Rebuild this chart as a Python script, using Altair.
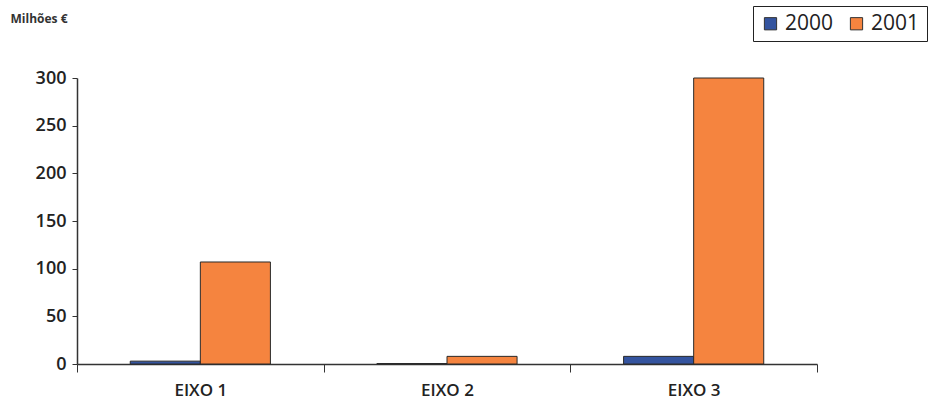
import altair as alt
import pandas as pd

categories = ["EIXO 1", "EIXO 2", "EIXO 3"]
years = ["2000", "2001"]
values_2000 = [3, 0.5, 8]
values_2001 = [107, 8, 300]

rows = []
for c, a, b in zip(categories, values_2000, values_2001):
    rows.append({"eixo": c, "ano": "2000", "valor": a})
    rows.append({"eixo": c, "ano": "2001", "valor": b})
df = pd.DataFrame(rows)

FONT = "Open Sans"

chart = alt.Chart(df).mark_bar(stroke="#2a2a2a", strokeWidth=1).encode(
    x=alt.X("eixo:N", sort=categories,
            scale=alt.Scale(paddingInner=0, paddingOuter=0),
            axis=alt.Axis(title=None, labelAngle=0, labelFontSize=17, labelFont=FONT,
                          labelFontWeight=600, labelColor="#222222", labelPadding=10,
                          tickBand="extent", tickSize=8, tickColor="#333333",
                          domainColor="#333333", domainWidth=1.5)),
    xOffset=alt.XOffset("ano:N", sort=years,
                        scale=alt.Scale(paddingInner=0, paddingOuter=0.76)),
    y=alt.Y("valor:Q", scale=alt.Scale(domain=[0, 300], nice=False),
            axis=alt.Axis(values=[0, 50, 100, 150, 200, 250, 300], grid=False,
                          labelFontSize=18, labelFont=FONT, labelFontWeight=600,
                          labelColor="#222222", labelPadding=6, tickSize=5,
                          tickColor="#333333", domainColor="#333333", domainWidth=1.5,
                          title="Milhões €", titleAngle=0, titleX=-67, titleY=-60,
                          titleAlign="left", titleBaseline="middle", titleFont=FONT,
                          titleFontSize=12, titleFontWeight="bold", titleColor="#333333")),
    color=alt.Color("ano:N", sort=years,
                    scale=alt.Scale(domain=years, range=["#34549f", "#f5843f"]),
                    legend=alt.Legend(title=None, orient="none", direction="horizontal",
                                      legendX=676, legendY=-72, labelFontSize=21,
                                      labelFont=FONT, labelColor="#222222",
                                      symbolType="square", symbolSize=150,
                                      symbolStrokeColor="#333333", symbolStrokeWidth=1,
                                      strokeColor="#222222", padding=7,
                                      columnPadding=12, labelOffset=4)),
).properties(
    width=740, height=286,
    background="white",
    padding={"left": 77, "top": 78, "right": 115, "bottom": 52},
    autosize=alt.AutoSizeParams(type="none"),
).configure_view(strokeWidth=0, stroke=None)

chart.save("out.html", embed_options={"renderer": "svg", "actions": False})
